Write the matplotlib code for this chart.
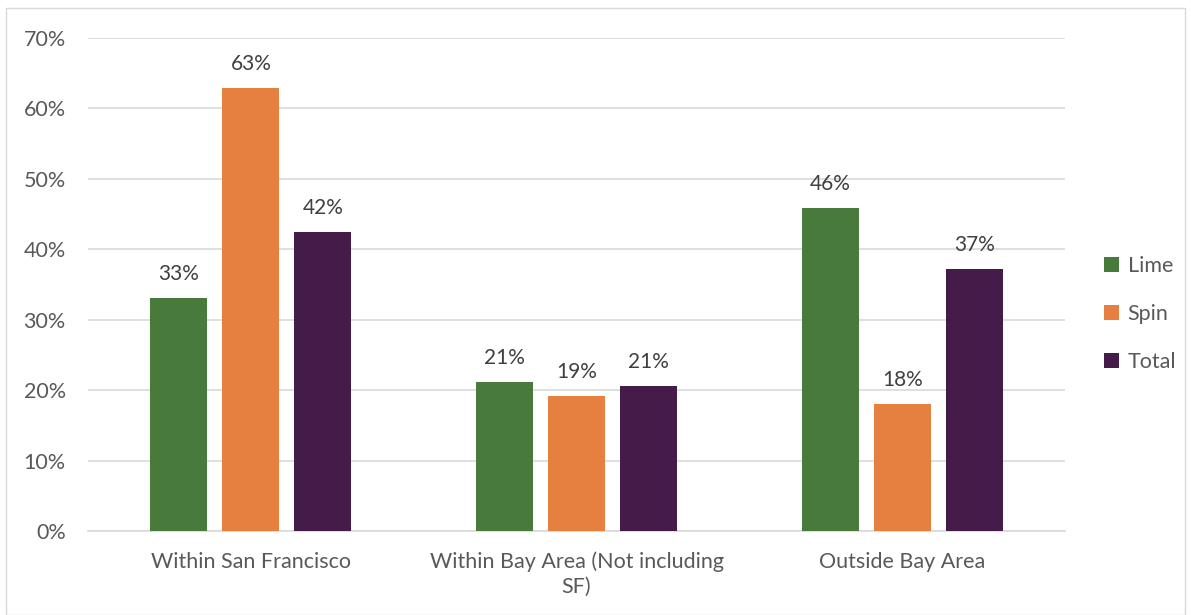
import matplotlib.pyplot as plt
import numpy as np
from matplotlib.patches import Rectangle

plt.rcParams['font.family'] = ['Lato', 'DejaVu Sans']

categories = ['Within San Francisco', 'Within Bay Area (Not including\nSF)', 'Outside Bay Area']
series = ['Lime', 'Spin', 'Total']
lime = [33.1, 21.2, 45.9]
spin = [62.9, 19.2, 18.0]
total = [42.5, 20.6, 37.2]
colors = ['#477a3b', '#e68040', '#451b4a']

fig = plt.figure(figsize=(11.91, 6.15), dpi=100)
ax = fig.add_axes([0.0739, 0.1366, 0.8204, 0.8016])

fig.patches.append(Rectangle((0.005, 0.0), 0.99, 0.987, transform=fig.transFigure,
                             fill=False, edgecolor='#d9d9d9', linewidth=1))

x = np.arange(len(categories))
width = 0.175
offset = 0.221
for i, (name, vals) in enumerate(zip(series, [lime, spin, total])):
    pos = x + (i - 1) * offset
    ax.bar(pos, vals, width, color=colors[i], label=name, zorder=3)
    for xb, v in zip(pos, vals):
        ax.text(xb, v + 2.0, f'{round(v):.0f}%', ha='center', va='bottom',
                fontsize=15, color='#404040')

ax.set_xlim(-0.5, 2.5)
ax.set_ylim(0, 70)
ax.set_yticks(range(0, 71, 10))
ax.set_yticklabels([f'{t}%' for t in range(0, 71, 10)])
ax.set_xticks(x)
ax.set_xticklabels(categories, linespacing=1.25)
ax.tick_params(axis='both', length=0, labelsize=15.5, colors='#595959')
ax.tick_params(axis='x', pad=15)
ax.tick_params(axis='y', pad=16)
ax.grid(axis='y', color='#d9d9d9', linewidth=1.2, zorder=0)
for s in ['top', 'right', 'left']:
    ax.spines[s].set_visible(False)
ax.spines['bottom'].set_color('#d9d9d9')
ax.spines['bottom'].set_linewidth(1.2)

ax.legend(loc='center left', bbox_to_anchor=(1.02, 0.44), frameon=False,
          fontsize=15.5, labelcolor='#595959', handlelength=0.7, handleheight=0.7,
          labelspacing=1.3, handletextpad=0.4)

fig.savefig('out.png', dpi=100)
